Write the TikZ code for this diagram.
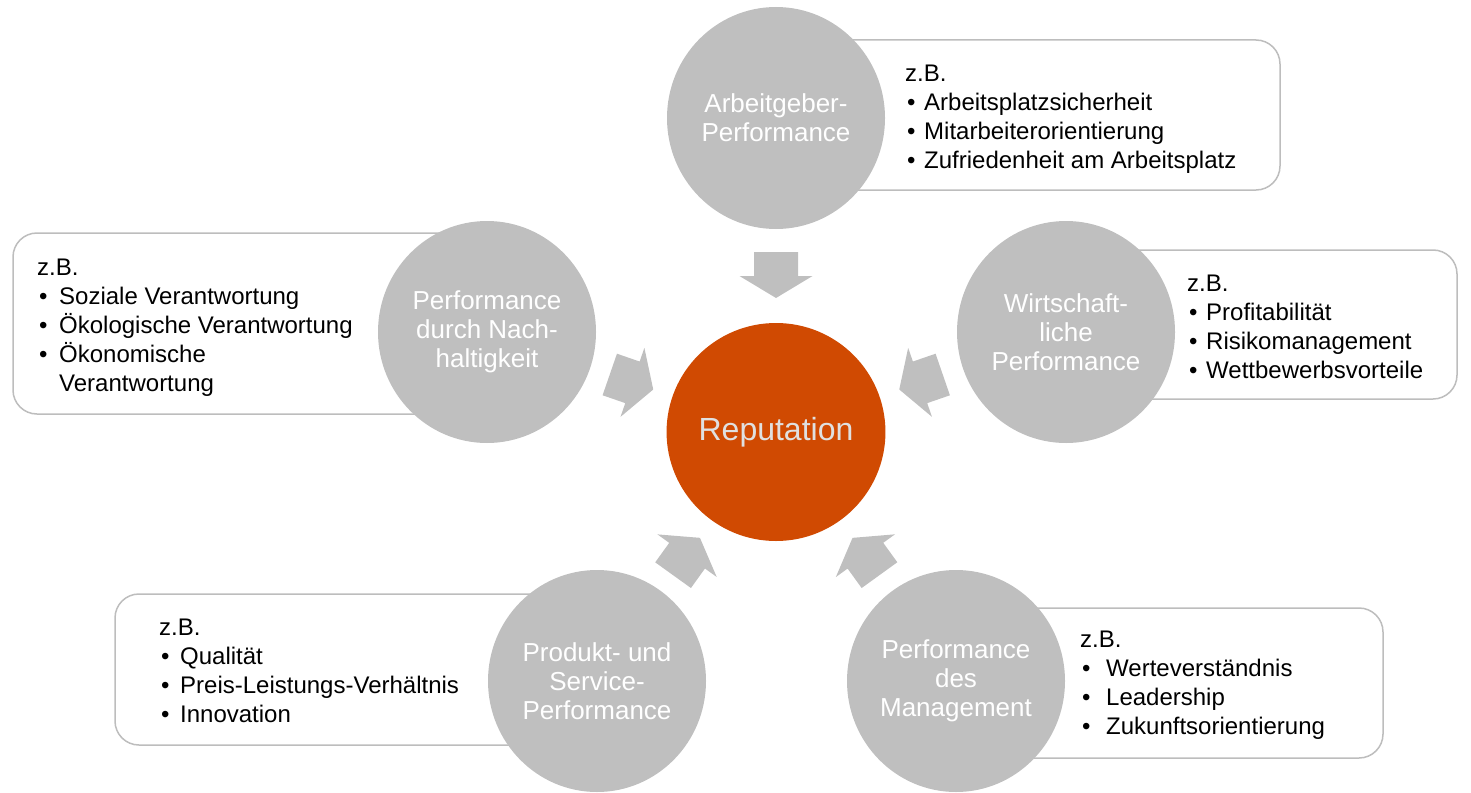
\documentclass[tikz,border=0pt]{standalone}
\usepackage{fontspec}
\setmainfont{Liberation Sans}
\usetikzlibrary{shapes.geometric,calc}

\definecolor{perfgray}{HTML}{BFBFBF}
\definecolor{repred}{HTML}{D04A02}
\definecolor{boxline}{HTML}{BDBDBD}

\tikzset{
  perf/.style={ellipse, fill=perfgray, minimum width=218pt, minimum height=222pt,
    inner sep=0pt, text=white, align=center, font=\fontsize{26}{29}\selectfont},
  infobox/.style={draw=boxline, line width=1.5pt, fill=white, rounded corners=24pt, inner sep=0pt},
  boxtext/.style={anchor=north west, inner sep=0pt, align=left, font=\fontsize{24}{29}\selectfont},
  inarrow/.pic={\fill[perfgray] (-23,-22) -- (1,-22) -- (1,-36.5) -- (23,0)
    -- (1,36.5) -- (1,22) -- (-23,22) -- cycle;}
}
% bullet with a fixed indent
\newcommand\itm[1][19pt]{\makebox[#1][l]{\hspace{2pt}•}}
% block arrow half way between a driver and the centre
\newcommand\pusharrow[1]{%
  \path let \p1=($(rep)-(#1)$), \n1={atan2(\y1,\x1)} in
    ($(#1)!0.5!(rep)$) pic[rotate=\n1] {inarrow};}

\begin{document}
\begin{tikzpicture}[x=1pt,y=-1pt]
\useasboundingbox (0,0) rectangle (1471,792);

% example boxes behind the circles
\node[infobox, minimum width=504pt, minimum height=150pt] (arbbox) at (1028,115) {};
\node[infobox, minimum width=474pt, minimum height=181pt] (nachbox) at (250,323.5) {};
\node[infobox, minimum width=391pt, minimum height=149pt] (wirtbox) at (1261.5,324.5) {};
\node[infobox, minimum width=482pt, minimum height=151pt] (prodbox) at (356,669.5) {};
\node[infobox, minimum width=427pt, minimum height=150pt] (mgmtbox) at (1169.5,683) {};

% drivers
\node[perf] (arb) at (776,118) {Arbeitgeber-\\Performance};
\node[perf] (nach) at (487,332) {Performance\\durch Nach-\\haltigkeit};
\node[perf] (wirt) at (1066,332) {Wirtschaft-\\liche\\Performance};
\node[perf] (prod) at (597,681) {Produkt- und\\Service-\\Performance};
\node[perf] (mgmt) at (956,681) {Performance\\des\\Management};

% centre
\node[ellipse, fill=repred, minimum width=217pt, minimum height=218pt, inner sep=0pt,
  text=white!88!black, font=\fontsize{32}{38}\selectfont] (rep) at (776,432) {Reputation};

% arrows into the centre
\pusharrow{arb}
\pusharrow{nach}
\pusharrow{wirt}
\pusharrow{prod}
\pusharrow{mgmt}

% box texts
\node[boxtext] (arbtxt) at (905,65) {z.B.\\
  \itm Arbeitsplatzsicherheit\\
  \itm Mitarbeiterorientierung\\
  \itm Zufriedenheit am Arbeitsplatz};
\node[boxtext] (nachtxt) at (37,259) {z.B.\\
  \itm[22pt]Soziale Verantwortung\\
  \itm[22pt]Ökologische Verantwortung\\
  \itm[22pt]Ökonomische\\
  \hspace*{22pt}Verantwortung};
\node[boxtext] (wirttxt) at (1187,275) {z.B.\\
  \itm Profitabilität\\
  \itm Risikomanagement\\
  \itm Wettbewerbsvorteile};
\node[boxtext] (prodtxt) at (159,619) {z.B.\\
  \itm[21pt]Qualität\\
  \itm[21pt]Preis-Leistungs-Verhältnis\\
  \itm[21pt]Innovation};
\node[boxtext] (mgmttxt) at (1080,631) {z.B.\\
  \itm[26pt]Werteverständnis\\
  \itm[26pt]Leadership\\
  \itm[26pt]Zukunftsorientierung};

\end{tikzpicture}
\end{document}
